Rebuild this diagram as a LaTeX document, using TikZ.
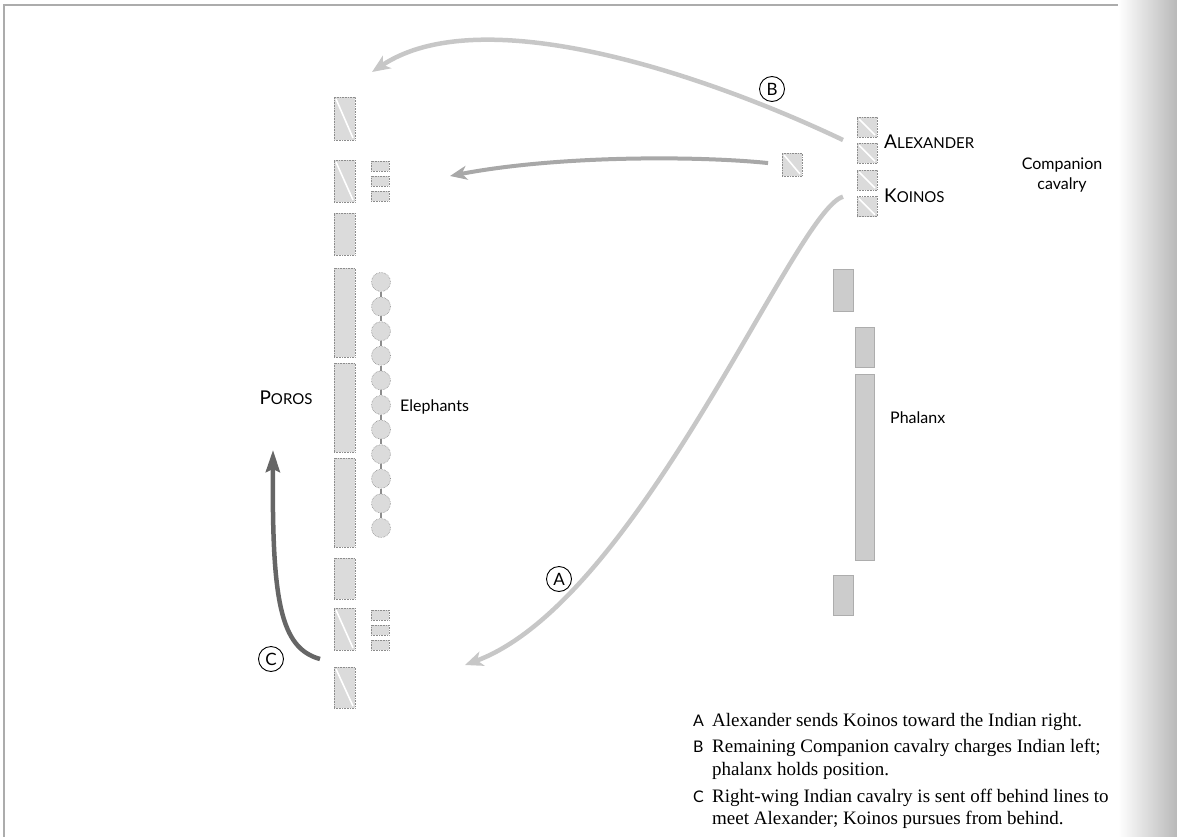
\documentclass[tikz,border=0pt]{standalone}
\usepackage{fontspec}
\setmainfont{Liberation Serif}
\newfontfamily\labfont{Lato}
\usetikzlibrary{arrows.meta}
\definecolor{indfill}{gray}{0.86}
\definecolor{indline}{gray}{0.55}
\definecolor{phfill}{gray}{0.80}
\definecolor{phline}{gray}{0.68}
\definecolor{arlight}{gray}{0.78}
\definecolor{armid}{gray}{0.66}
\definecolor{ardark}{gray}{0.40}
\newcommand\smc[2]{{\fontsize{19}{19}\selectfont #1}{\fontsize{15}{15}\selectfont #2}}
\newcommand\diagline[1]{\draw[diagw] ([shift={(2pt,-2pt)}]#1.north west) -- ([shift={(-2pt,2pt)}]#1.south east);}
\begin{document}
\begin{tikzpicture}[x=1pt,y=-1pt,
  ibx/.style={draw=indline, densely dotted, line width=0.6pt, fill=indfill, inner sep=0pt, outer sep=0pt, minimum width=21pt, anchor=north west},
  sbx/.style={ibx, minimum width=18pt, minimum height=10pt},
  cbx/.style={ibx, minimum width=20pt, minimum height=20pt},
  pbx/.style={draw=phline, line width=0.6pt, fill=phfill, inner sep=0pt, outer sep=0pt, minimum width=20pt, anchor=north west},
  eleph/.style={circle, draw=indline, densely dotted, line width=0.6pt, fill=indfill, inner sep=0pt, minimum size=19pt},
  econ/.style={draw=indline, line width=1.2pt},
  diagw/.style={white, line width=1.6pt},
  lab/.style={font=\labfont\fontsize{16}{20}\selectfont, inner sep=0pt},
  circlab/.style={circle, draw=black, line width=0.9pt, minimum size=25pt, inner sep=0pt, font=\labfont\fontsize{17}{17}\selectfont},
  arrL/.style={draw=arlight, line width=4.5pt, -{Stealth[length=18pt,width=15pt,inset=5pt,fill=arlight]}},
  arrM/.style={draw=armid, line width=4pt, -{Stealth[length=17pt,width=14pt,inset=5pt,fill=armid]}},
  arrD/.style={draw=ardark, line width=4.5pt, -{Stealth[length=22pt,width=14pt,inset=3pt,fill=ardark]}},
  captxt/.style={font=\fontsize{19}{22}\selectfont, inner sep=0pt, anchor=base west},
  capkey/.style={font=\labfont\fontsize{16}{20}\selectfont, inner sep=0pt, anchor=base west},
  framel/.style={draw=gray!65, line width=1.5pt}
]
\useasboundingbox (0,0) rectangle (1177,837);
% frame and page shadow
\draw[framel] (4,837) -- (4,5) -- (1160,5);
\shade[left color=white, right color=gray!55] (1118,0) rectangle (1177,837);

% Indian line
\node[ibx, minimum height=43pt] (i1) at (334,97) {};
\node[ibx, minimum height=42pt] (i2) at (334,160) {};
\node[ibx, minimum height=42pt] (i3) at (334,213) {};
\node[ibx, minimum height=89pt] (i4) at (334,268) {};
\node[ibx, minimum height=89pt] (i5) at (334,363) {};
\node[ibx, minimum height=89pt] (i6) at (334,458) {};
\node[ibx, minimum height=41pt] (i7) at (334,558) {};
\node[ibx, minimum height=42pt] (i8) at (334,608) {};
\node[ibx, minimum height=41pt] (i9) at (334,667) {};
\diagline{i1}\diagline{i2}\diagline{i8}\diagline{i9}
\node[sbx] (s1) at (371,161) {};
\node[sbx] (s2) at (371,176) {};
\node[sbx] (s3) at (371,191) {};
\node[sbx] (s4) at (371,610) {};
\node[sbx] (s5) at (371,625) {};
\node[sbx] (s6) at (371,640) {};

% Elephants
\foreach \k in {1,...,11} \node[eleph] (e\k) at (381,{282+24.6*(\k-1)}) {};
\foreach \k [evaluate=\k as \n using int(\k+1)] in {1,...,10} \draw[econ] (e\k) -- (e\n);

% Macedonian side
\node[cbx] (c1) at (857,117) {};
\node[cbx] (c2) at (857,143.3) {};
\node[cbx] (c3) at (857,170) {};
\node[cbx] (c4) at (857,196.7) {};
\node[cbx, minimum height=23pt] (lone) at (782,153) {};
\diagline{c1}\diagline{c2}\diagline{c3}\diagline{c4}\diagline{lone}

\node[pbx, minimum height=42pt] (p1) at (833,269) {};
\node[pbx, minimum width=19pt, minimum height=40pt] (p2) at (855,327) {};
\node[pbx, minimum width=19pt, minimum height=186pt] (p3) at (855,374) {};
\node[pbx, minimum height=40pt] (p4) at (833,575) {};

% labels
\node[lab, anchor=west] (alex) at (884,142) {\smc{A}{LEXANDER}};
\node[lab, anchor=west] (koin) at (884,196) {\smc{K}{OINOS}};
\node[lab, align=center] (comp) at (1062,175) {Companion\\cavalry};
\node[lab, anchor=west] (phal) at (890,418) {Phalanx};
\node[lab, anchor=west] (elab) at (400,407) {Elephants};
\node[lab] (poros) at (286,398) {\smc{P}{OROS}};

% movements
\coordinate (tB) at (372,72);
\coordinate (tM) at (450,176);
\coordinate (tA) at (465,665);
\coordinate (sC) at (320,659);
\coordinate (tC) at (273,450);
\draw[arrL] ([shift={(-14pt,-3pt)}]c1.south west) .. controls (700,72) and (480,0) .. (tB);
\draw[arrM, shorten <=14pt] (lone.west) .. controls (700,156) and (560,155) .. (tM);
\draw[arrL] ([shift={(-14pt,0pt)}]c4.north west) .. controls (795,210) and (640,600) .. (tA);
\draw[arrD] (sC) .. controls (280,648) and (272,600) .. (tC);

\node[circlab] (lB) at (772,89) {B};
\node[circlab] (lA) at (559,579) {A};
\node[circlab] (lC) at (271,659) {C};

% caption
\node[capkey] (kA) at (693,726) {A};
\node[captxt] (tA1) at (712,726) {Alexander sends Koinos toward the Indian right.};
\node[capkey] (kB) at (693,752) {B};
\node[captxt] (tB1) at (712,752) {Remaining Companion cavalry charges Indian left;};
\node[captxt] (tB2) at (712,775) {phalanx holds position.};
\node[capkey] (kC) at (693,802) {C};
\node[captxt] (tC1) at (712,802) {Right-wing Indian cavalry is sent off behind lines to};
\node[captxt] (tC2) at (712,824) {meet Alexander; Koinos pursues from behind.};
\end{tikzpicture}
\end{document}
